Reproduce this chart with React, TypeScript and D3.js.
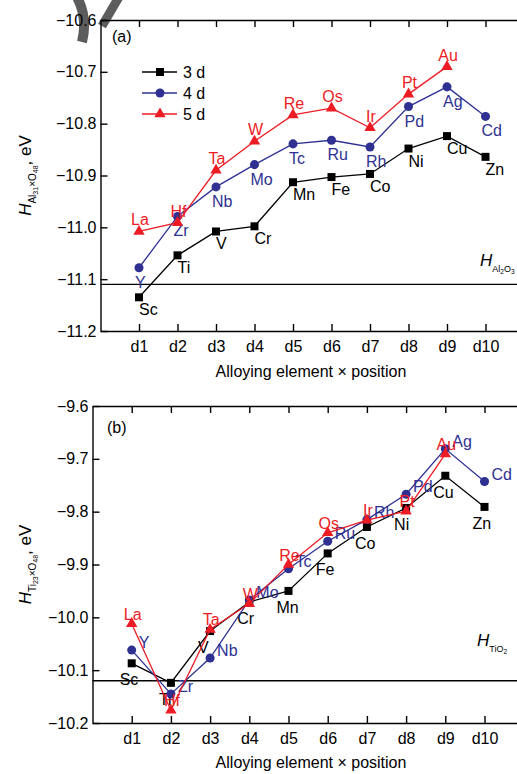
import React from 'react';
import * as d3 from 'd3';

// x positions
const positions = ['d1', 'd2', 'd3', 'd4', 'd5', 'd6', 'd7', 'd8', 'd9', 'd10'];

// alloying elements per row
const elements3d = ['Sc', 'Ti', 'V', 'Cr', 'Mn', 'Fe', 'Co', 'Ni', 'Cu', 'Zn'];
const elements4d = ['Y', 'Zr', 'Nb', 'Mo', 'Tc', 'Ru', 'Rh', 'Pd', 'Ag', 'Cd'];
const elements5d = ['La', 'Hf', 'Ta', 'W', 'Re', 'Os', 'Ir', 'Pt', 'Au'];

// (a) H of Al31xO48, eV
const al2o3Ticks = [-11.2, -11.1, -11.0, -10.9, -10.8, -10.7, -10.6];
const al2o3_3d = [-11.135, -11.054, -11.008, -10.998, -10.913, -10.903, -10.897, -10.848, -10.824, -10.864];
const al2o3_4d = [-11.078, -10.979, -10.922, -10.879, -10.839, -10.832, -10.845, -10.767, -10.729, -10.786];
const al2o3_5d = [-11.008, -10.991, -10.89, -10.834, -10.783, -10.77, -10.808, -10.743, -10.69];
const al2o3Ref = -11.11;

// (b) H of Ti23xO48, eV
const tio2Ticks = [-10.2, -10.1, -10.0, -9.9, -9.8, -9.7, -9.6];
const tio2_3d = [-10.087, -10.124, -10.026, -9.971, -9.95, -9.879, -9.829, -9.793, -9.732, -9.791];
const tio2_4d = [-10.062, -10.145, -10.077, -9.967, -9.908, -9.856, -9.815, -9.767, -9.681, -9.743];
const tio2_5d = [-10.012, -10.176, -10.023, -9.974, -9.9, -9.84, -9.816, -9.799, -9.691];
const tio2Ref = -10.12;

const legendNames = ['3 d', '4 d', '5 d'];

const FONT = '"Liberation Sans", Arial, Helvetica, sans-serif';
const COLORS = ['#000000', '#2e3192', '#ed1c24'];
const SHAPES = [d3.symbolSquare, d3.symbolCircle, d3.symbolTriangle];
const SIZES = [64, 64, 56];

const drawPanel = (svg, cfg) => {
  const x = d3.scaleLinear().domain([0, 11]).range([cfg.left, cfg.left + 11 * cfg.step]);
  const y = d3.scaleLinear().domain([cfg.yTicks[0], cfg.yTicks[cfg.yTicks.length - 1]]).range([cfg.bottom, cfg.top]);
  const g = svg.append('g');
  const idx = positions.map((_, i) => i + 1);

  // reference line
  g.append('line')
    .attr('x1', x(0)).attr('x2', x(11))
    .attr('y1', y(cfg.ref)).attr('y2', y(cfg.ref))
    .attr('stroke', '#000').attr('stroke-width', 1.3);

  const styleAxis = (a) => {
    a.selectAll('path, line').attr('stroke', '#000').attr('stroke-width', 1.4);
    a.selectAll('text').attr('font-size', 16).attr('font-family', FONT).attr('fill', '#000');
  };

  g.append('g')
    .attr('transform', `translate(${x(0)},0)`)
    .call(d3.axisLeft(y).tickValues(cfg.yTicks).tickSizeInner(-7).tickSizeOuter(0).tickPadding(4).tickFormat(d3.format('.1f')))
    .call(styleAxis);

  g.append('g')
    .attr('transform', `translate(0,${cfg.bottom})`)
    .call(d3.axisBottom(x).tickValues(idx).tickSizeInner(-7).tickSizeOuter(0).tickPadding(10).tickFormat((d) => positions[d - 1]))
    .call(styleAxis);

  g.append('g')
    .attr('transform', `translate(0,${cfg.top})`)
    .call(d3.axisTop(x).tickValues(idx).tickSizeInner(-7).tickSizeOuter(0).tickFormat(() => ''))
    .call(styleAxis);

  // series
  cfg.series.forEach((s, k) => {
    const pts = s.values.map((v, i) => [x(i + 1), y(v)]);
    g.append('path')
      .attr('d', d3.line()(pts))
      .attr('fill', 'none')
      .attr('stroke', COLORS[k])
      .attr('stroke-width', 1.3);
    g.append('g').selectAll('path')
      .data(pts)
      .join('path')
      .attr('transform', (p) => `translate(${p[0]},${p[1]})`)
      .attr('d', d3.symbol(SHAPES[k], SIZES[k]))
      .attr('fill', COLORS[k]);
    const lab = cfg.labels[k];
    g.append('g').selectAll('text')
      .data(pts)
      .join('text')
      .attr('x', (p) => p[0] + lab.dx)
      .attr('y', (p) => p[1] + lab.dy)
      .attr('text-anchor', lab.anchor)
      .attr('font-size', 16)
      .attr('font-family', FONT)
      .attr('fill', COLORS[k])
      .text((_, i) => s.names[i]);
  });

  // H reference label
  const h = g.append('text')
    .attr('x', cfg.hx).attr('y', cfg.hy)
    .attr('font-family', FONT).attr('fill', '#000');
  h.append('tspan').attr('font-size', 17).attr('font-style', 'italic').text('H');
  cfg.hSub.forEach(([t, small], i) => {
    const prev = i === 0 ? 0 : cfg.hSub[i - 1][1];
    const base = i === 0 ? 6 : (small ? 2 : 0) - (prev ? 2 : 0);
    h.append('tspan').attr('font-size', small ? 6.5 : 9).attr('dy', base).text(t);
  });

  // y axis title
  const yt = g.append('text')
    .attr('transform', `translate(31,${(cfg.top + cfg.bottom) / 2}) rotate(-90)`)
    .attr('text-anchor', 'middle')
    .attr('font-family', FONT).attr('fill', '#000');
  yt.append('tspan').attr('font-size', 17).attr('font-style', 'italic').text('H');
  yt.append('tspan').attr('font-size', 10).attr('dy', 5).text(cfg.yMetal);
  yt.append('tspan').attr('font-size', 7).attr('dy', 2).text(cfg.yMetalN);
  yt.append('tspan').attr('font-size', 10).attr('dy', -2).text('\u00d7O');
  yt.append('tspan').attr('font-size', 7).attr('dy', 2).text('48');
  yt.append('tspan').attr('font-size', 17).attr('dy', -7).text(', eV');

  // x axis title
  g.append('text')
    .attr('x', 311).attr('y', cfg.titleY)
    .attr('text-anchor', 'middle')
    .attr('font-size', 16).attr('font-family', FONT).attr('fill', '#000')
    .text('Alloying element \u00d7 position');

  // panel letter
  g.append('text')
    .attr('x', cfg.letterX).attr('y', cfg.letterY)
    .attr('font-size', 16).attr('font-family', FONT).attr('fill', '#000')
    .text(cfg.letter);

  if (cfg.legend) {
    legendNames.forEach((n, k) => {
      const ly = 72 + k * 21;
      g.append('line').attr('x1', 142).attr('x2', 177).attr('y1', ly).attr('y2', ly)
        .attr('stroke', COLORS[k]).attr('stroke-width', 1.3);
      g.append('path').attr('transform', `translate(160,${ly})`)
        .attr('d', d3.symbol(SHAPES[k], SIZES[k])).attr('fill', COLORS[k]);
      g.append('text').attr('x', 183).attr('y', ly + 6)
        .attr('font-size', 16).attr('font-family', FONT).attr('fill', '#000').text(n);
    });
  }
};

const App = () => {
  const ref = React.useRef(null);

  React.useEffect(() => {
    const svg = d3.select(ref.current);
    svg.selectAll('*').remove();

    // scan smudge at the top left
    svg.append('path').attr('d', 'M77,-3 Q88,18 82,42').attr('fill', 'none')
      .attr('stroke', '#5c5c5c').attr('stroke-width', 10);
    svg.append('path').attr('d', 'M119,-3 L102,26').attr('fill', 'none')
      .attr('stroke', '#5c5c5c').attr('stroke-width', 9);

    drawPanel(svg, {
      left: 100.5, step: 38.5, top: 20, bottom: 331,
      yTicks: al2o3Ticks, ref: al2o3Ref,
      series: [
        { values: al2o3_3d, names: elements3d },
        { values: al2o3_4d, names: elements4d },
        { values: al2o3_5d, names: elements5d },
      ],
      labels: [
        { dx: 0, dy: 18, anchor: 'start' },
        { dx: -4, dy: 20, anchor: 'start' },
        { dx: 1, dy: -6, anchor: 'middle' },
      ],
      hx: 480, hy: 266,
      hSub: [['Al', false], ['2', true], ['O', false], ['3', true]],
      yMetal: 'Al', yMetalN: '31',
      titleY: 377, letter: '(a)', letterX: 112, letterY: 42, legend: true,
    });

    drawPanel(svg, {
      left: 92.5, step: 39.2, top: 406, bottom: 723,
      yTicks: tio2Ticks, ref: tio2Ref,
      series: [
        { values: tio2_3d, names: elements3d },
        { values: tio2_4d, names: elements4d },
        { values: tio2_5d, names: elements5d },
      ],
      labels: [
        { dx: -12, dy: 22, anchor: 'start' },
        { dx: 7, dy: -2, anchor: 'start' },
        { dx: 1, dy: -4, anchor: 'middle' },
      ],
      hx: 477, hy: 646,
      hSub: [['Ti', false], ['O', false], ['2', true]],
      yMetal: 'Ti', yMetalN: '23',
      titleY: 768, letter: '(b)', letterX: 107, letterY: 433, legend: false,
    });
  }, []);

  return (
    <svg
      ref={ref}
      width={517}
      height={774}
      style={{ position: 'absolute', left: 0, top: 0, background: '#fff' }}
    />
  );
};

export default App;
